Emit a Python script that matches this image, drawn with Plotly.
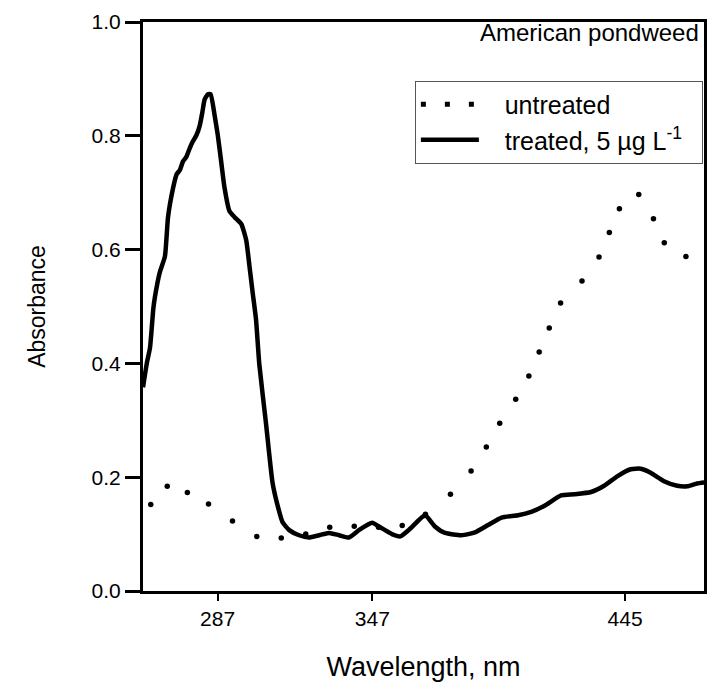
import plotly.graph_objects as go

# ---- data ----
wl_untreated = [261.1, 267.5, 275.3, 283.5, 292.8, 302.2, 311.7, 321.2, 330.5, 340.0,
                349.4, 358.6, 367.6, 377.3, 385.3, 391.2, 396.4, 402.6, 407.7, 411.7,
                415.6, 420.0, 428.3, 434.9, 438.9, 442.8, 450.3, 456.0, 460.2, 468.6]
abs_untreated = [0.152, 0.184, 0.173, 0.153, 0.123, 0.096, 0.093, 0.100, 0.112, 0.114,
                 0.112, 0.115, 0.135, 0.170, 0.211, 0.253, 0.295, 0.337, 0.378, 0.420,
                 0.462, 0.506, 0.545, 0.587, 0.630, 0.672, 0.697, 0.654, 0.612, 0.588]

wl_treated = [258.1, 259.6, 260.8, 262.1, 262.7, 264.6, 266.6, 267.8, 269.8, 271.1,
              272.4, 273.6, 274.9, 276.2, 277.3, 278.8, 280.1, 281.1, 282.0, 283.3,
              284.3, 285.9, 287.1, 288.4, 289.7, 291.6, 293.6, 296.2, 298.1, 299.4,
              300.6, 301.9, 303.2, 305.8, 308.3, 310.3, 312.2, 314.8, 318.6, 322.5,
              326.4, 330.2, 334.1, 337.9, 341.8, 346.9, 350.8, 354.6, 357.9, 361.1,
              364.9, 367.5, 371.4, 375.2, 381.6, 386.8, 391.9, 397.1, 403.5, 408.6,
              413.8, 420.2, 425.4, 431.8, 436.9, 442.1, 447.2, 451.1, 454.9, 460.1,
              465.2, 469.1, 472.9, 476.1]
abs_treated = [0.358, 0.401, 0.427, 0.496, 0.516, 0.560, 0.588, 0.657, 0.709, 0.732,
               0.740, 0.755, 0.763, 0.778, 0.789, 0.801, 0.818, 0.841, 0.864, 0.873,
               0.873, 0.835, 0.801, 0.755, 0.709, 0.668, 0.657, 0.645, 0.617, 0.570,
               0.525, 0.478, 0.398, 0.294, 0.191, 0.150, 0.121, 0.107, 0.098, 0.094,
               0.098, 0.102, 0.098, 0.094, 0.107, 0.120, 0.110, 0.100, 0.096, 0.107,
               0.124, 0.133, 0.113, 0.102, 0.098, 0.103, 0.116, 0.129, 0.133, 0.139,
               0.150, 0.168, 0.170, 0.174, 0.185, 0.202, 0.214, 0.215, 0.208, 0.193,
               0.185, 0.184, 0.189, 0.191]

x_ticks = [287, 347, 445]
y_ticks = [0.0, 0.2, 0.4, 0.6, 0.8, 1.0]

FONT = "Liberation Sans, Arial, sans-serif"
GAP = "\u00a0\u00a0\u00a0"      # space between legend symbol and text
TAIL = "\u00a0\u00a0"           # right padding inside the legend box

fig = go.Figure()

# untreated: dotted spectrum (dots drawn as markers)
fig.add_trace(go.Scatter(
    x=wl_untreated, y=abs_untreated, mode="markers",
    marker=dict(color="black", size=5.5),
    legendgroup="u", showlegend=False, hoverinfo="x+y",
))
# legend entry for untreated (dotted line)
fig.add_trace(go.Scatter(
    x=[None], y=[None], mode="lines", name=GAP + "untreated",
    line=dict(color="black", width=5, dash="5px,19px"),
    legendgroup="u",
))
fig.add_trace(go.Scatter(
    x=wl_treated, y=abs_treated, mode="lines",
    name=GAP + "treated, 5 µg L<sup>-1</sup>" + TAIL,
    line=dict(color="black", width=4.5, shape="spline", smoothing=0.5),
))

fig.update_layout(
    width=717, height=687,
    margin=dict(l=143, r=10, t=18, b=90),
    paper_bgcolor="white", plot_bgcolor="white",
    font=dict(family=FONT, color="black", size=21),
    showlegend=True,
    legend=dict(
        x=0.998, y=0.897, xanchor="right", yanchor="top",
        bgcolor="white", bordercolor="#555", borderwidth=1,
        font=dict(size=25, family=FONT), itemwidth=58,
        tracegroupgap=0,
    ),
    annotations=[dict(
        text="American pondweed", xref="paper", yref="paper",
        x=0.994, y=0.982, xanchor="right", yanchor="middle",
        showarrow=False, font=dict(size=24, family=FONT),
    )],
)

fig.update_xaxes(
    range=[258.1, 475.6], tickvals=x_ticks, ticktext=[str(v) for v in x_ticks],
    ticks="outside", ticklen=7, tickwidth=2, tickcolor="black",
    showline=True, linewidth=3, linecolor="black", mirror=True,
    showgrid=False, zeroline=False,
    tickfont=dict(size=21),
    title=dict(text="Wavelength, nm", font=dict(size=27), standoff=28),
)
fig.update_yaxes(
    range=[0, 1.0], tickvals=y_ticks, tickformat=".1f",
    ticks="outside", ticklen=15, tickwidth=3, tickcolor="black",
    showline=True, linewidth=3, linecolor="black", mirror=True,
    showgrid=False, zeroline=False,
    tickfont=dict(size=21),
    title=dict(text="Absorbance", font=dict(size=23), standoff=40),
)

fig.write_html("out.html")
